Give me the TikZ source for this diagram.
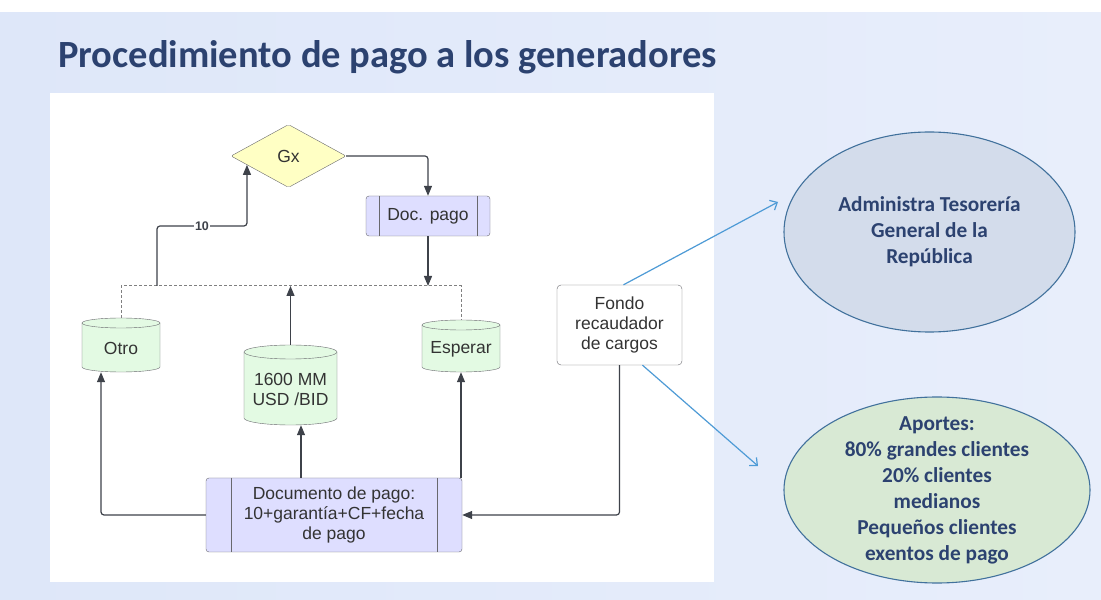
\documentclass[tikz,border=0pt]{standalone}
\usepackage{fontspec}
\setmainfont{Liberation Sans}
\newfontfamily\calibri{Carlito}
\usetikzlibrary{shapes.geometric,arrows.meta,calc}

\definecolor{slideleft}{RGB}{222,231,249}
\definecolor{slideright}{RGB}{232,238,251}
\definecolor{titleblue}{RGB}{44,66,112}
\definecolor{linegray}{RGB}{62,66,74}
\definecolor{boxgray}{RGB}{105,105,110}
\definecolor{textgray}{RGB}{51,51,51}
\definecolor{gxyellow}{RGB}{255,255,196}
\definecolor{lavender}{RGB}{222,222,255}
\definecolor{drumgreen}{RGB}{227,250,227}
\definecolor{ellblue}{RGB}{211,220,235}
\definecolor{ellgreen}{RGB}{216,233,212}
\definecolor{ellborder}{RGB}{65,113,156}
\definecolor{arrowblue}{RGB}{78,155,214}

\tikzset{
  slidetitle/.style={font=\calibri\bfseries\fontsize{38.5}{44}\selectfont,text=titleblue,inner sep=0pt},
  txt/.style={font=\fontsize{17.5}{20}\selectfont,text=textgray,inner sep=0pt,align=center},
  decision/.style={txt,diamond,draw=boxgray,fill=gxyellow,minimum width=115pt,minimum height=63pt,rounded corners=2pt},
  subproc/.style={txt,draw=boxgray,fill=lavender,rounded corners=3pt,
    path picture={\draw[boxgray] ([xshift=#1]path picture bounding box.north west) -- ([xshift=#1]path picture bounding box.south west)
      ([xshift=-#1]path picture bounding box.north east) -- ([xshift=-#1]path picture bounding box.south east);}},
  fondobox/.style={txt,draw=boxgray,fill=white,rounded corners=4pt,minimum width=125pt,minimum height=80pt},
  drumline/.style={draw=boxgray,fill=drumgreen},
  drumbox/.style={inner sep=0pt},
  flow/.style={draw=linegray,line width=1.2pt,rounded corners=3pt,-{Triangle[length=10pt,width=8pt]}},
  dashline/.style={draw=gray,dash pattern=on 3pt off 2pt,line width=0.8pt},
  edgenum/.style={font=\bfseries\fontsize{12.5}{13}\selectfont,text=linegray,fill=white,inner sep=1pt},
  link/.style={draw=arrowblue,line width=1.2pt,-{Straight Barb[length=6pt,width=11pt]}},
  ell/.style={ellipse,draw=ellborder,line width=1.1pt,inner sep=0pt},
  elltxt/.style={font=\calibri\bfseries\fontsize{21.3}{26}\selectfont,text=titleblue,align=center,inner sep=0pt}
}

% name, cx, cy, width, height, ry, text
\newcommand{\drum}[7]{%
  \filldraw[drumline] ({#2-#4/2},{#3+#5/2-#6}) -- ({#2-#4/2},{#3-#5/2+#6})
    arc[start angle=180,end angle=360,x radius=#4/2,y radius=#6]
    -- ({#2+#4/2},{#3+#5/2-#6})
    arc[start angle=0,end angle=180,x radius=#4/2,y radius=#6] -- cycle;
  \draw[boxgray] ({#2-#4/2},{#3+#5/2-#6})
    arc[start angle=180,end angle=360,x radius=#4/2,y radius=#6];
  \node[drumbox,minimum width=#4pt,minimum height=#5pt] (#1) at (#2,#3) {};
  \node[txt] (#1txt) at (#2,{#3-#6*0.7}) {#7};
}

\begin{document}
\begin{tikzpicture}[x=1pt,y=1pt]
  % slide
  \useasboundingbox (0,0) rectangle (1101,600);
  \fill[white] (0,0) rectangle (1101,600);
  \shade[left color=slideleft,right color=slideright] (0,0) rectangle (1101,587);
  \fill[white] (50,18) rectangle (714,507);
  \node[slidetitle,anchor=base west] (title) at (58,532) {Procedimiento de pago a los generadores};

  % flowchart
  \node[decision] (gx) at (288.5,444) {Gx};
  \node[subproc=13pt,minimum width=124pt,minimum height=40pt] (dp) at (428,384) {Doc. pago};
  \drum{otro}{121}{255}{78}{54}{5}{Otro}
  \drum{bid}{290.5}{215}{93}{80}{7}{1600 MM\\USD /BID}
  \drum{esperar}{461}{254}{78}{52}{5}{Esperar}
  \node[subproc=25pt,minimum width=256pt,minimum height=74pt] (doc) at (334,85) {Documento de pago:\\10+garantía+CF+fecha\\de pago};
  \node[fondobox] (fondo) at (619.5,275) {Fondo\\recaudador\\de cargos};

  \coordinate (jn) at (428,314);
  \coordinate (c10) at (157,314);
  \coordinate (gxin) at ($(gx.west)!0.28!(gx.south)$);
  \draw[dashline] (otro.north) -- ++(0,32) -| (esperar.north);
  \draw[flow] (gx.east) -| (dp.north);
  \draw[flow] (dp.south) -- (jn);
  \draw[flow] (bid.north) -- (bid.north |- jn);
  \draw[flow] (c10) -- ++(0,60) -| node[edgenum,pos=0.25] (n10) {10} (gxin);
  \draw[flow] (doc.west) -| ([xshift=-20pt]otro.south);
  \draw[flow] ([xshift=-33pt]doc.north) -- ([xshift=-33pt]doc.north |- bid.south);
  \draw[flow] (esperar.south |- doc.north) -- (esperar.south);
  \draw[flow] (fondo.south) |- (doc.east);

  % ellipses
  \node[ell,fill=ellblue,minimum width=291pt,minimum height=200pt] (tgr) at (929.5,368) {};
  \node[elltxt] (tgrtxt) at (tgr) {Administra Tesorería\\General de la\\República};
  \node[ell,fill=ellgreen,minimum width=306pt,minimum height=186pt] (aportes) at (937,110) {};
  \node[elltxt] (aportestxt) at (aportes) {Aportes:\\80\% grandes clientes\\20\% clientes\\medianos\\Pequeños clientes\\exentos de pago};

  \coordinate (tip1) at (778,398);
  \coordinate (tip2) at (758,134);
  \draw[link] ([xshift=4pt]fondo.north) -- (tip1);
  \draw[link] ([xshift=23pt]fondo.south) -- (tip2);
\end{tikzpicture}
\end{document}
